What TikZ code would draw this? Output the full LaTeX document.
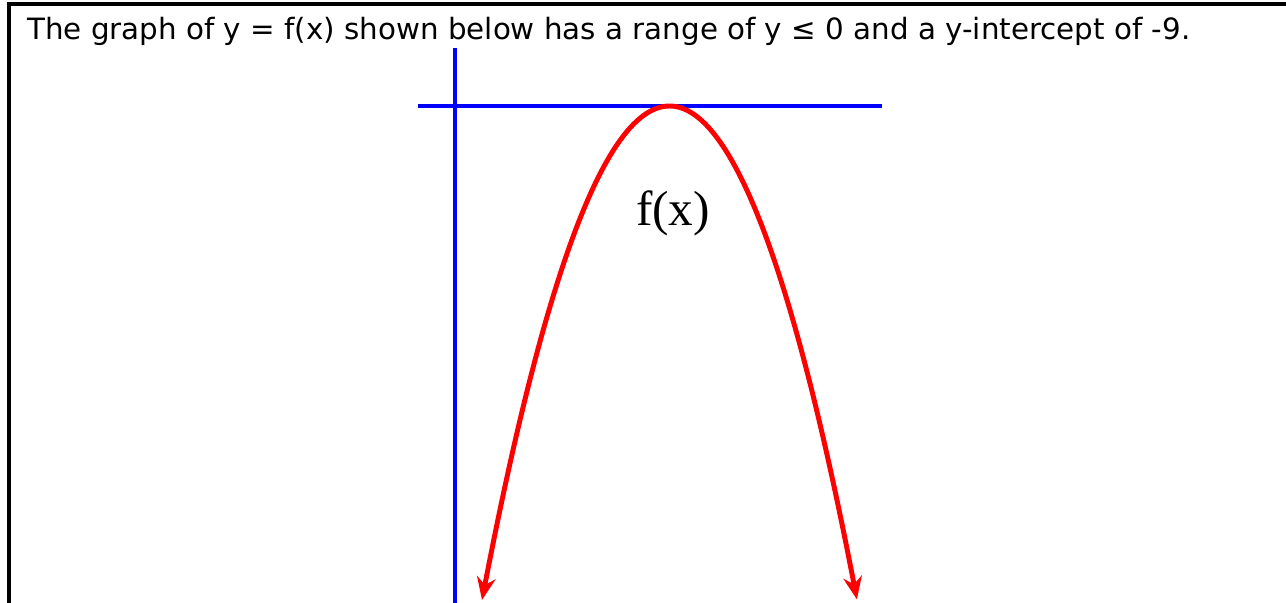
\documentclass[tikz,border=0pt]{standalone}
\usepackage{fontspec}
\setmainfont{DejaVu Sans}
\newfontfamily\graphfont{Liberation Serif}
\definecolor{axisblue}{RGB}{0,0,255}
\definecolor{curvered}{RGB}{255,0,0}
\usetikzlibrary{arrows.meta}
\tikzset{
  axisline/.style={draw=axisblue, line width=2.3pt},
  fxcurve/.style={draw=curvered, line width=3.7pt, {Stealth[length=17pt,width=14pt]}-{Stealth[length=17pt,width=14pt]}},
  frameline/.style={draw=black, line width=3pt}
}
\begin{document}
\begin{tikzpicture}[x=0.75pt,y=-0.75pt]
\useasboundingbox (0,0) rectangle (1286,603);
\fill[white] (0,0) rectangle (1286,603);

% frame
\draw[frameline] (9,603) -- (9,3.5) -- (1286,3.5);

\node[anchor=base west, inner sep=0pt, font=\fontsize{22}{26}\selectfont] (task) at (27,40)
  {The graph of y = f(x) shown below has a range of y ≤ 0 and a y-intercept of -9.};

% axes
\draw[axisline] (455,48) -- (455,603);
\draw[axisline] (418,106) -- (882,106);

% f(x)
\draw[fxcurve] plot[domain=-1.875:1.875, samples=80, smooth] ({669.5+100*\x},{106+140.5*\x*\x});
\node[font=\graphfont\fontsize{37}{40}\selectfont, inner sep=0pt] (fx) at (673,213) {f(x)};
\end{tikzpicture}
\end{document}
